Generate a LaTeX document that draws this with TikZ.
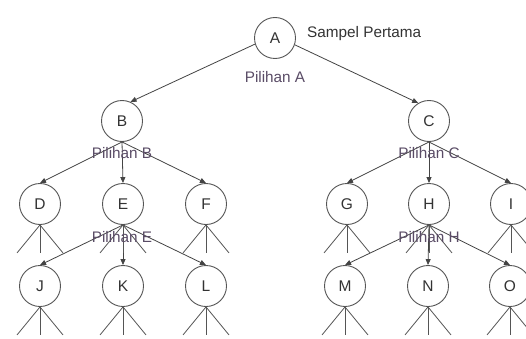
\documentclass[tikz,border=0pt]{standalone}
\usepackage{fontspec}
\setmainfont{Liberation Sans}
\usetikzlibrary{arrows.meta}
\definecolor{linec}{HTML}{444444}
\definecolor{circc}{HTML}{555555}
\definecolor{labc}{HTML}{5A4C66}
\definecolor{txtc}{HTML}{333333}
\tikzset{
  st/.style={circle, draw=circc, line width=0.9pt, minimum size=41pt, inner sep=0pt, text=txtc, font=\fontsize{15.5}{15.5}\selectfont},
  arr/.style={draw=linec, line width=0.8pt, -{Triangle[length=6pt,width=5pt]}},
  leg/.style={draw=circc, line width=0.8pt},
  lab/.style={text=labc, font=\fontsize{15.3}{15.3}\selectfont, inner sep=0pt},
  slab/.style={text=txtc, font=\fontsize{15.3}{15.3}\selectfont, inner sep=0pt}
}
\begin{document}
\begin{tikzpicture}[x=1pt,y=1pt]
\useasboundingbox (0,0) rectangle (526,338);
\clip (0,0) rectangle (526,338);
\fill[white] (0,0) rectangle (526,338);
% nodes
\node[st] (A) at (275,300) {A};
\node[st] (B) at (122,217) {B};
\node[st] (C) at (429,217) {C};
\node[st] (D) at (40,134) {D};
\node[st] (E) at (123,134) {E};
\node[st] (F) at (206,134) {F};
\node[st] (G) at (347,134) {G};
\node[st] (H) at (429,134) {H};
\node[st] (I) at (511,134) {I};
\node[st] (J) at (40,52) {J};
\node[st] (K) at (123,52) {K};
\node[st] (L) at (206,52) {L};
\node[st] (M) at (345,52) {M};
\node[st] (N) at (428,52) {N};
\node[st] (O) at (510,52) {O};
% arrows
\draw[arr] (A.197) -- (B.66);
\draw[arr] (A.341) -- (C.121);
\foreach \p/\c in {B/D,B/E,B/F,C/G,C/H,C/I,E/J,E/K,E/L,H/M,H/N,H/O}{
  \draw[arr] (\p.south) -- (\c.north);
}
% legs
\foreach \n in {D,E,F,G,H,I,J,K,L,M,N,O}{
  \coordinate (\n l) at ([shift={(-23,-28)}]\n.south);
  \coordinate (\n m) at ([shift={(0,-28)}]\n.south);
  \coordinate (\n r) at ([shift={(23,-28)}]\n.south);
  \draw[leg] (\n l) -- (\n.south) -- (\n r);
  \draw[leg] (\n.south) -- (\n m);
}
% labels
\node[slab, anchor=west] (sp) at (307,304) {Sampel Pertama};
\node[lab] (pa) at (275,261) {Pilihan A};
\node[lab] (pb) at (122,185) {Pilihan B};
\node[lab] (pc) at (429,185) {Pilihan C};
\node[lab] (pe) at (122,101) {Pilihan E};
\node[lab] (ph) at (429,101) {Pilihan H};
\end{tikzpicture}
\end{document}
